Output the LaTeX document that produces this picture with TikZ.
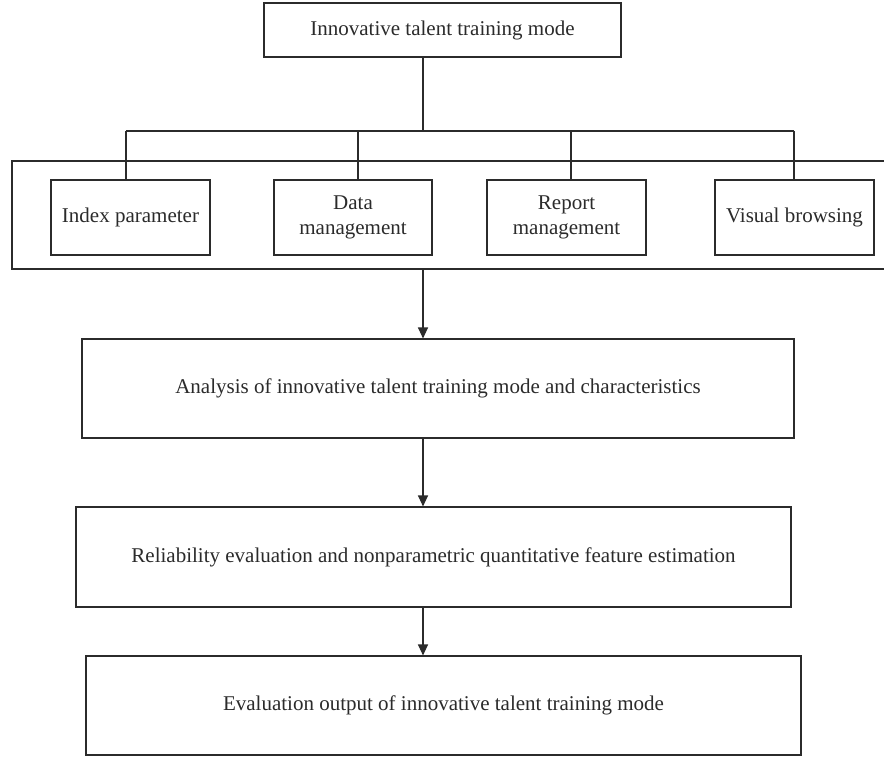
\documentclass[tikz,border=0pt]{standalone}
\usepackage{fontspec}
\setmainfont{Liberation Serif}
\usetikzlibrary{arrows.meta}
\definecolor{ink}{HTML}{2B2B2B}
\tikzset{
  box/.style={draw=ink, line width=1.1pt, inner sep=0pt, align=center, text=ink,
              font=\fontsize{21}{25}\selectfont},
  wire/.style={draw=ink, line width=1.1pt},
  arr/.style={wire, -{Triangle[length=11pt,width=10pt]}},
}
\begin{document}
\begin{tikzpicture}[x=1pt,y=-1pt]
\useasboundingbox (0,0) rectangle (884,757);
\fill[white] (0,0) rectangle (884,757);
% container (open beyond the right edge)
\begin{scope}
\clip (0,0) rectangle (884,757);
\draw[wire] (12,161) rectangle (900,269);
\end{scope}
\node[box, minimum width=357pt, minimum height=54pt] (top) at (442.5,30) {Innovative talent training mode};
\node[box, minimum width=159pt, minimum height=75pt] (idx) at (130.5,217.5) {Index parameter};
\node[box, minimum width=158pt, minimum height=75pt] (dat) at (353,217.5) {Data\\management};
\node[box, minimum width=159pt, minimum height=75pt] (rep) at (566.5,217.5) {Report\\management};
\node[box, minimum width=159pt, minimum height=75pt] (vis) at (794.5,217.5) {Visual browsing};
\node[box, minimum width=712pt, minimum height=99pt] (b2) at (438,388.5) {Analysis of innovative talent training mode and characteristics};
\node[box, minimum width=715pt, minimum height=100pt] (b3) at (433.5,557) {Reliability evaluation and nonparametric quantitative feature estimation};
\node[box, minimum width=715pt, minimum height=99pt] (b4) at (443.5,705.5) {Evaluation output of innovative talent training mode};
% bus
\coordinate (j) at (423,131);
\coordinate (c1) at (126,131);
\coordinate (c2) at (358,131);
\coordinate (c3) at (571,131);
\coordinate (c4) at (794,131);
\coordinate (cb) at (423,269);
\draw[wire] (top.south -| j) -- (j);
\draw[wire] (c1) -- (c4);
\draw[wire] (c1) -- (c1 |- idx.north);
\draw[wire] (c2) -- (c2 |- dat.north);
\draw[wire] (c3) -- (c3 |- rep.north);
\draw[wire] (c4) -- (c4 |- vis.north);
\draw[arr] (cb) -- (cb |- b2.north);
\draw[arr] (b2.south -| cb) -- (b3.north -| cb);
\draw[arr] (b3.south -| cb) -- (b4.north -| cb);
\end{tikzpicture}
\end{document}
